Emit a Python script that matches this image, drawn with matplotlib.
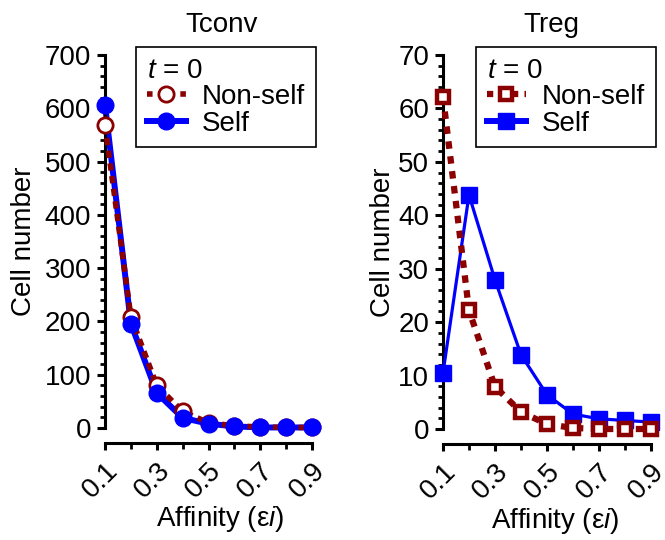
import matplotlib
matplotlib.use("Agg")
import matplotlib.pyplot as plt
from matplotlib.ticker import MultipleLocator
from matplotlib.lines import Line2D

plt.rcParams['font.family'] = ['Liberation Sans', 'DejaVu Sans']
plt.rcParams['mathtext.fontset'] = 'custom'
plt.rcParams['mathtext.rm'] = 'Liberation Sans'
plt.rcParams['mathtext.it'] = 'Liberation Sans:italic'

affinity = [0.1, 0.2, 0.3, 0.4, 0.5, 0.6, 0.7, 0.8, 0.9]
tconv_nonself = [568, 209, 80, 31, 10, 4, 2, 1, 1]
tconv_self = [606, 196, 66, 19, 8, 3, 1, 1, 1]
treg_nonself = [62.2, 22.2, 7.9, 3.2, 0.9, 0.2, 0.0, 0.0, 0.0]
treg_self = [10.5, 43.8, 27.9, 13.9, 6.4, 2.8, 1.9, 1.6, 1.3]

panel_titles = ["Tconv", "Treg"]
ylabel = "Cell number"
xlabel = "Affinity (ε$\\mathit{i}$)"
legend_title = "$\\mathit{t}$ = 0"
series_names = ["Non-self", "Self"]
xticks = [0.1, 0.3, 0.5, 0.7, 0.9]
xticklabels = ["0.1", "0.3", "0.5", "0.7", "0.9"]

RED = '#8B0000'
BLUE = '#0000FF'
FS = 20

W, H = 665, 540
fig = plt.figure(figsize=(W / 100, H / 100), dpi=100)

ax1 = fig.add_axes([105 / W, 1 - 428 / H, 207 / W, 373 / H])
ax2 = fig.add_axes([443 / W, 1 - 429 / H, 208 / W, 374 / H])

# Tconv: lines first, then markers (self markers on top)
ax1.plot(affinity, tconv_self, color=BLUE, lw=4.3, clip_on=False, zorder=2)
ax1.plot(affinity, tconv_nonself, color=RED, lw=4.0, ls=(0, (1.3, 1.0)),
         clip_on=False, zorder=3)
ax1.plot(affinity, tconv_nonself, ls='none', marker='o', ms=11, mfc='white',
         mec=RED, mew=2.0, clip_on=False, zorder=4)
ax1.plot(affinity, tconv_self, ls='none', marker='o', ms=12, mfc=BLUE,
         mec=BLUE, clip_on=False, zorder=5)
ax1.set_ylim(0, 700)
ax1.yaxis.set_major_locator(MultipleLocator(100))
ax1.yaxis.set_minor_locator(MultipleLocator(20))

# Treg
ax2.plot(affinity, treg_self, color=BLUE, lw=2.3, marker='s', ms=11,
         mfc=BLUE, mec=BLUE, clip_on=False, zorder=3)
ax2.plot(affinity, treg_nonself, color=RED, lw=4.5, ls=(0, (1.2, 1.2)),
         marker='s', ms=8.5, mfc='white', mec=RED, mew=3.2, clip_on=False, zorder=4)
ax2.set_ylim(0, 70)
ax2.yaxis.set_major_locator(MultipleLocator(10))
ax2.yaxis.set_minor_locator(MultipleLocator(2))

legend_specs = [
    (ax1, 'o', 316, [dict(mfc='white', mew=2.0, ms=11, lw=4.0, ls=(0, (1.0, 1.0))),
                     dict(mfc=BLUE, mew=1, ms=12, lw=4.3, ls='-')]),
    (ax2, 's', 656, [dict(mfc='white', mew=3.2, ms=8.5, lw=4.5, ls=(0, (1.0, 1.0))),
                     dict(mfc=BLUE, mew=1, ms=11, lw=4.3, ls='-')]),
]

title_x = [222, 551]
ylabel_x = [-0.33, -0.225]
xlabel_x = [0.556, 0.54]

for i, (ax, mk, lx, hs) in enumerate(legend_specs):
    ax.set_xlim(0.1, 0.9)
    ax.set_xticks(xticks)
    ax.xaxis.set_minor_locator(MultipleLocator(0.1))
    for s in ['top', 'right']:
        ax.spines[s].set_visible(False)
    ax.spines['bottom'].set_position(('outward', 11))
    for s in ['left', 'bottom']:
        ax.spines[s].set_linewidth(2.2)
    ax.tick_params(axis='both', which='major', length=6, width=2.2,
                   labelsize=FS, pad=4)
    ax.tick_params(axis='y', which='minor', length=3.5, width=2.0)
    ax.tick_params(axis='x', which='minor', length=4, width=2.0)
    ax.tick_params(axis='x', which='major', length=5, pad=5)
    ax.set_xticklabels(xticklabels)
    for lab in ax.get_xticklabels():
        lab.set_rotation(45)
        lab.set_ha('right')
        lab.set_va('top')
        lab.set_rotation_mode('anchor')
    ax.set_ylabel(ylabel, fontsize=FS)
    ax.yaxis.set_label_coords(ylabel_x[i], 0.5)
    ax.set_xlabel(xlabel, fontsize=FS)
    ax.xaxis.set_label_coords(xlabel_x[i], -0.205)
    fig.text(title_x[i] / W, 1 - 32 / H, panel_titles[i], fontsize=FS,
             ha='center', va='baseline')

    colors = [RED, BLUE]
    handles = []
    for c, h in zip(colors, hs):
        handles.append(Line2D([0], [0], color=c, marker=mk, mec=c, **h))
    leg = ax.legend(handles, series_names, title=legend_title,
                    loc='upper right', bbox_to_anchor=(lx / W, 1 - 47 / H),
                    bbox_transform=fig.transFigure, borderaxespad=0,
                    fontsize=FS, title_fontsize=FS, frameon=True,
                    fancybox=False, framealpha=1, edgecolor='black',
                    handlelength=1.4, handletextpad=0.6, labelspacing=0.02,
                    borderpad=0.38, alignment='left')
    leg.get_frame().set_linewidth(1.2)
    leg.set_zorder(10)

fig.savefig('out.png', dpi=100)
